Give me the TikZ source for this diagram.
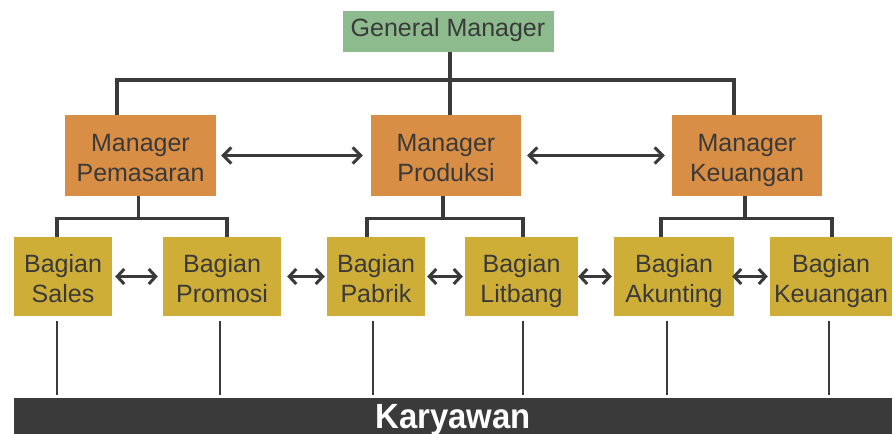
\documentclass[tikz,border=0pt]{standalone}
\usepackage{fontspec}
\setmainfont{Liberation Sans}
\newfontfamily\barfont[FakeStretch=0.94]{Liberation Sans}
\usetikzlibrary{arrows.meta}

\definecolor{gmgreen}{HTML}{8DBB8E}
\definecolor{mgrorange}{HTML}{D98E45}
\definecolor{bgngold}{HTML}{CFAE38}
\definecolor{inkgray}{HTML}{3A3A3A}

\newcommand{\twolines}[2]{\begin{tabular}{@{}c@{}}\rule{0pt}{30pt}#1\\#2\end{tabular}}

\begin{document}
\begin{tikzpicture}[x=1pt,y=-1pt,
    box/.style={inner sep=0pt,text=inkgray,font=\fontsize{25}{30}\selectfont},
    gmbox/.style={box,fill=gmgreen,minimum width=211pt,minimum height=41pt,
      text height=19.6pt,text depth=8.4pt},
    mgrbox/.style={box,fill=mgrorange,minimum width=150pt,minimum height=81pt},
    bgnbox/.style={box,fill=bgngold,minimum height=79pt},
    tree/.style={draw=inkgray,line width=3.2pt},
    link/.style={draw=inkgray,line width=3pt,<->,
      >={Straight Barb[length=8pt,width=16pt]}},
    sublink/.style={link,>={Straight Barb[length=7pt,width=15pt]}},
    staff/.style={draw=inkgray,line width=2pt,shorten >=3pt}]
        \useasboundingbox (0,0) rectangle (895,434);
        \node[gmbox] (gm) at (448,31) {General Manager};
        \node[mgrbox,minimum width=151pt] (mpe) at (140.5,155.5) {\twolines{Manager}{Pemasaran}};
        \node[mgrbox] (mpr) at (446,155.5) {\twolines{Manager}{Produksi}};
        \node[mgrbox] (mk) at (747,155.5) {\twolines{Manager}{Keuangan}};
        \node[bgnbox,minimum width=98pt] (bs) at (63,276.5) {\twolines{Bagian}{Sales}};
        \node[bgnbox,minimum width=118pt] (bpm) at (222,276.5) {\twolines{Bagian}{Promosi}};
        \node[bgnbox,minimum width=98pt] (bpb) at (376,276.5) {\twolines{Bagian}{Pabrik}};
        \node[bgnbox,minimum width=113pt] (bl) at (521.5,276.5) {\twolines{Bagian}{Litbang}};
        \node[bgnbox,minimum width=120pt] (ba) at (674,276.5) {\twolines{Bagian}{Akunting}};
        \node[bgnbox,minimum width=122pt] (bk) at (831,276.5) {\twolines{Bagian}{Keuangan}};
        \node[fill=inkgray,text=white,inner sep=0pt,minimum width=878pt,minimum height=36pt,
          text height=25pt,text depth=1pt,
          font=\fontsize{35}{36}\barfont\bfseries\selectfont] (kar) at (453,416) {Karyawan};
        % top level
        \coordinate (gmbus) at (448,80);
        \draw[tree] ([xshift=-23.5pt]mpe.north) |- (gmbus) -| ([xshift=-13pt]mk.north);
        \draw[tree] ([xshift=2pt]gm.south) -- ([xshift=4pt]mpr.north);
        % managers to bagian
        \draw[tree] ([xshift=-2pt]mpe.south) -- ++(0,22) coordinate (pebus);
        \draw[tree] (bs.north -| 57,0) |- (pebus) -| ([xshift=5pt]bpm.north);
        \draw[tree] ([xshift=-3pt]mpr.south) -- ++(0,22) coordinate (prbus);
        \draw[tree] ([xshift=-9pt]bpb.north) |- (prbus) -| ([xshift=1.5pt]bl.north);
        \draw[tree] ([xshift=-2pt]mk.south) -- ++(0,22) coordinate (kbus);
        \draw[tree] ([xshift=-13pt]ba.north) |- (kbus) -| ([xshift=1pt]bk.north);
        % arrows
        \path[link] ([xshift=5pt]mpe.east) -- ([xshift=-8pt]mpr.west);
        \path[link] ([xshift=6pt]mpr.east) -- ([xshift=-7pt]mk.west);
        \path[sublink] ([xshift=3pt]bs.east) -- ([xshift=-5pt]bpm.west);
        \path[sublink] ([xshift=6pt]bpm.east) -- ([xshift=-2pt]bpb.west);
        \path[sublink] ([xshift=2pt]bpb.east) -- ([xshift=-2pt]bl.west);
        \path[sublink] ([xshift=0pt]bl.east) -- ([xshift=-2pt]ba.west);
        \path[sublink] ([xshift=-2pt]ba.east) -- ([xshift=-2pt]bk.west);
        % staff lines
        \foreach \b/\x in {bs/57,bpm/220,bpb/373,bl/523,ba/667,bk/829}
          \draw[staff] (\b.south -| \x,0) ++(0,5) -- (kar.north -| \x,0);
      \end{tikzpicture}
\end{document}
